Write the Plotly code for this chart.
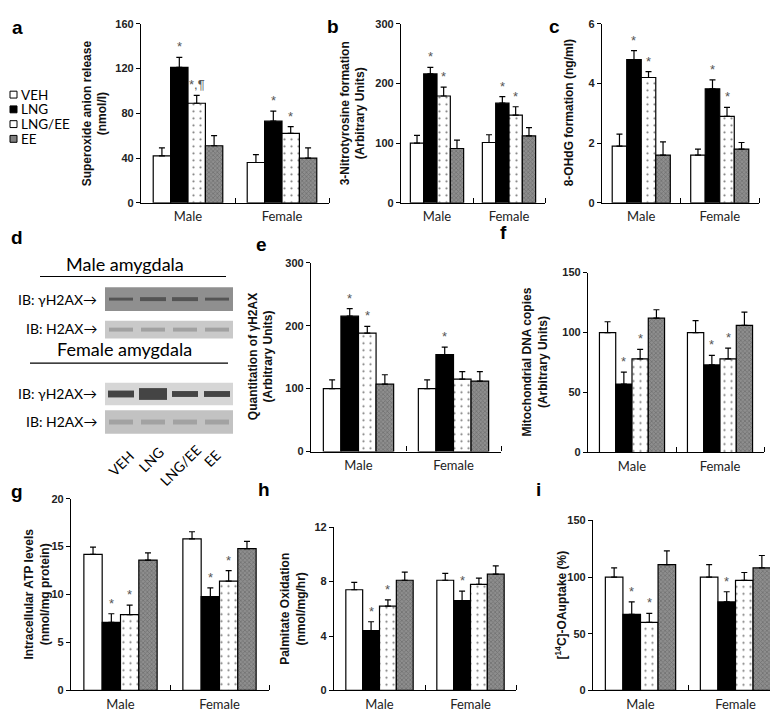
import plotly.graph_objects as go

W, H = 778, 713

groups = ["Male", "Female"]
treatments = ["VEH", "LNG", "LNG/EE", "EE"]

# a: Superoxide anion release (nmol/l)
superoxide_male = [42, 121, 89, 51]
superoxide_male_err = [7, 9, 7, 9]
superoxide_female = [36, 73, 62, 40]
superoxide_female_err = [7, 9, 6, 9]
superoxide_male_sig = ["", "*", "*,¶", ""]
superoxide_female_sig = ["", "*", "*", ""]

# b: 3-Nitrotyrosine formation (Arbitrary Units)
nitro_male = [100, 216, 179, 91]
nitro_male_err = [13, 11, 15, 14]
nitro_female = [101, 167, 147, 112]
nitro_female_err = [13, 11, 14, 14]
nitro_male_sig = ["", "*", "*", ""]
nitro_female_sig = ["", "*", "*", ""]

# c: 8-OHdG formation (ng/ml)
ohdg_male = [1.9, 4.8, 4.2, 1.6]
ohdg_male_err = [0.4, 0.3, 0.2, 0.44]
ohdg_female = [1.6, 3.82, 2.9, 1.8]
ohdg_female_err = [0.2, 0.3, 0.3, 0.22]
ohdg_male_sig = ["", "*", "*", ""]
ohdg_female_sig = ["", "*", "*", ""]

# e: Quantitation of gammaH2AX (Arbitrary Units)
h2ax_male = [100, 215, 188, 107]
h2ax_male_err = [14, 12, 11, 15]
h2ax_female = [100, 154, 115, 112]
h2ax_female_err = [14, 12, 12, 15]
h2ax_male_sig = ["", "*", "*", ""]
h2ax_female_sig = ["", "*", "", ""]

# f: Mitochondrial DNA copies (Arbitrary Units)
mtdna_male = [100, 57, 78, 112]
mtdna_male_err = [9, 10, 8, 7]
mtdna_female = [100, 73, 78, 106]
mtdna_female_err = [10, 8, 9, 11]
mtdna_male_sig = ["", "*", "*", ""]
mtdna_female_sig = ["", "*", "*", ""]

# g: Intracellular ATP levels (nmol/mg protein)
atp_male = [14.2, 7.1, 7.9, 13.6]
atp_male_err = [0.75, 0.9, 1.0, 0.75]
atp_female = [15.8, 9.8, 11.4, 14.8]
atp_female_err = [0.75, 0.9, 1.1, 0.75]
atp_male_sig = ["", "*", "*", ""]
atp_female_sig = ["", "*", "*", ""]

# h: Palmitate Oxidation (nmol/mg/hr)
palm_male = [7.4, 4.4, 6.2, 8.1]
palm_male_err = [0.55, 0.65, 0.45, 0.6]
palm_female = [8.1, 6.6, 7.8, 8.55]
palm_female_err = [0.5, 0.7, 0.45, 0.6]
palm_male_sig = ["", "*", "*", ""]
palm_female_sig = ["", "*", "", ""]

# i: [14C]-OA uptake (%)
oa_male = [100, 67, 60, 111]
oa_male_err = [8, 11, 8, 12]
oa_female = [100, 78, 97, 108]
oa_female_err = [11, 9, 7, 11]
oa_male_sig = ["", "*", "*", ""]
oa_female_sig = ["", "*", "", ""]

# d: blot lanes
blot_lanes = ["VEH", "LNG", "LNG/EE", "EE"]


def px(x):
    return x / W


def py(y):
    return 1 - y / H


panels = [
    dict(m=superoxide_male, me=superoxide_male_err, f=superoxide_female, fe=superoxide_female_err,
         ms=superoxide_male_sig, fs=superoxide_female_sig, ymax=160, dtick=40,
         box=(133, 321, 10, 192), title="Superoxide anion release<br>(nmol/l)", tx=87),
    dict(m=nitro_male, me=nitro_male_err, f=nitro_female, fe=nitro_female_err,
         ms=nitro_male_sig, fs=nitro_female_sig, ymax=300, dtick=100,
         box=(393, 537, 10, 192), title="3-Nitrotyrosine formation<br>(Arbitrary Units)", tx=345),
    dict(m=ohdg_male, me=ohdg_male_err, f=ohdg_female, fe=ohdg_female_err,
         ms=ohdg_male_sig, fs=ohdg_female_sig, ymax=6, dtick=2,
         box=(594, 751, 10, 192), title="8-OHdG formation (ng/ml)", tx=561),
    dict(m=h2ax_male, me=h2ax_male_err, f=h2ax_female, fe=h2ax_female_err,
         ms=h2ax_male_sig, fs=h2ax_female_sig, ymax=300, dtick=100,
         box=(303, 493, 253, 445), title="Quantitation of γH2AX<br>(Arbitrary Units)", tx=253),
    dict(m=mtdna_male, me=mtdna_male_err, f=mtdna_female, fe=mtdna_female_err,
         ms=mtdna_male_sig, fs=mtdna_female_sig, ymax=150, dtick=50,
         box=(580, 756, 263, 446), title="Mitochondrial DNA copies<br>(Arbitrary Units)", tx=527),
    dict(m=atp_male, me=atp_male_err, f=atp_female, fe=atp_female_err,
         ms=atp_male_sig, fs=atp_female_sig, ymax=20, dtick=5,
         box=(63, 261, 493, 688), title="Intracellular ATP levels<br>(nmol/mg protein)", tx=29),
    dict(m=palm_male, me=palm_male_err, f=palm_female, fe=palm_female_err,
         ms=palm_male_sig, fs=palm_female_sig, ymax=12, dtick=4,
         box=(326, 508, 522, 688), title="Palmitate Oxidation<br>(nmol/mg/hr)", tx=285),
    dict(m=oa_male, me=oa_male_err, f=oa_female, fe=oa_female_err,
         ms=oa_male_sig, fs=oa_female_sig, ymax=150, dtick=50,
         box=(585, 775, 515, 688), title="[<sup>14</sup>C]-OAuptake (%)", tx=553),
]

styles = [
    dict(color="white", pattern=None),
    dict(color="black", pattern=None),
    dict(color="white", pattern=dict(shape=".", fgcolor="black", bgcolor="white", size=7, solidity=0.08)),
    dict(color="#808080", pattern=dict(shape="x", fgcolor="#555555", bgcolor="#8e8e8e", size=3, solidity=0.45)),
]

bw = 0.185
offsets = [(k - 1.5) * bw for k in range(4)]

fig = go.Figure()
annotations = []
shapes = []
layout = {}

for p_i, p in enumerate(panels):
    n = p_i + 1
    xa = "x" if n == 1 else f"x{n}"
    ya = "y" if n == 1 else f"y{n}"
    for k, t in enumerate(treatments):
        st = styles[k]
        marker = dict(color=st["color"], line=dict(color="black", width=1.2))
        if st["pattern"]:
            marker["pattern"] = st["pattern"]
        xs = [g + offsets[k] for g in range(2)]
        ys = [p["m"][k], p["f"][k]]
        es = [p["me"][k], p["fe"][k]]
        fig.add_trace(go.Bar(
            x=xs, y=ys, width=bw, marker=marker, xaxis=xa, yaxis=ya, showlegend=False,
            name=t,
            error_y=dict(type="data", array=es, arrayminus=[0, 0], symmetric=False,
                         color="black", thickness=1.2, width=3),
        ))
        for g, sig in enumerate([p["ms"][k], p["fs"][k]]):
            if sig:
                annotations.append(dict(
                    x=xs[g], y=ys[g] + es[g], xref=xa, yref=ya, text=sig, showarrow=False,
                    yanchor="bottom", yshift=1,
                    font=dict(family="Liberation Sans", size=13, color="#555555")))
    x0, x1, y0, y1 = p["box"]
    layout["xaxis" if n == 1 else f"xaxis{n}"] = dict(
        domain=[px(x0), px(x1)], anchor=ya, range=[-0.5, 1.5],
        showline=True, linecolor="black", linewidth=1.2, showgrid=False, zeroline=False,
        tickmode="array", tickvals=[0, 1], ticktext=groups, ticks="",
        ticklabelstandoff=2,
        tickfont=dict(family="Lato", size=13, color="#222222"),
        minor=dict(tickmode="array", tickvals=[0.5, 1.5], ticks="inside", ticklen=5,
                   tickcolor="black", tickwidth=1.2),
    )
    layout["yaxis" if n == 1 else f"yaxis{n}"] = dict(
        domain=[py(y1), py(y0)], anchor=xa, range=[0, p["ymax"]], dtick=p["dtick"],
        showline=True, linecolor="black", linewidth=1.2, showgrid=False, zeroline=False,
        ticks="outside", ticklen=4, tickcolor="black",
        tickfont=dict(family="Liberation Sans", size=11, color="#222222", weight="bold"),
    )
    annotations.append(dict(
        x=px(p["tx"]), y=py((y0 + y1) / 2), xref="paper", yref="paper", text=p["title"],
        textangle=-90, showarrow=False, xanchor="center", yanchor="middle",
        font=dict(family="Liberation Sans", size=12, color="#111111", weight="bold")))

# panel letters
letters = [("a", 9, 14), ("b", 325, 13), ("c", 546, 13), ("d", 9, 227), ("e", 253, 234),
           ("f", 495, 222), ("g", 9, 486), ("h", 256, 484), ("i", 530, 484)]
for t, lx, ly in letters:
    annotations.append(dict(x=px(lx), y=py(ly), xref="paper", yref="paper", text=f"<b>{t}</b>",
                            showarrow=False, xanchor="center", yanchor="middle",
                            font=dict(family="Liberation Sans", size=19, color="black")))

# legend (panel a)
leg_y = [82, 97, 112, 127]
leg_fill = ["white", "black", "white", "#808080"]
for k, t in enumerate(treatments):
    cy = leg_y[k]
    shapes.append(dict(type="rect", xref="paper", yref="paper", x0=px(2), x1=px(9),
                       y0=py(cy + 3.5), y1=py(cy - 3.5), fillcolor=leg_fill[k],
                       line=dict(color="black", width=1)))
    annotations.append(dict(x=px(11), y=py(cy), xref="paper", yref="paper", text=t,
                            showarrow=False, xanchor="left", yanchor="middle",
                            font=dict(family="Lato", size=13.5, color="black")))

# panel d: western blot schematic
def blot(ytop, ybot, bg, band, band_h, band_w):
    shapes.append(dict(type="rect", xref="paper", yref="paper", x0=px(97), x1=px(225),
                       y0=py(ybot), y1=py(ytop), fillcolor=bg, line=dict(width=0)))
    cy = (ytop + ybot) / 2
    for j in range(4):
        cx = 113 + 32 * j
        w = band_w[j]
        shapes.append(dict(type="rect", xref="paper", yref="paper", x0=px(cx - w / 2), x1=px(cx + w / 2),
                           y0=py(cy + band_h[j] / 2), y1=py(cy - band_h[j] / 2),
                           fillcolor=band, line=dict(width=0), opacity=0.85))

blot(278, 302, "#8f8f8f", "#4a4a4a", [3, 4, 4, 3], [24, 26, 26, 24])
blot(312, 330, "#c9c9c9", "#9a9a9a", [4, 4, 4, 4], [24, 24, 24, 24])
blot(375, 398, "#d6d6d6", "#2a2a2a", [7, 12, 6, 6], [26, 28, 26, 26])
blot(403, 427, "#c2c2c2", "#9c9c9c", [5, 5, 5, 5], [24, 24, 24, 24])

shapes.append(dict(type="line", xref="paper", yref="paper", x0=px(32), x1=px(218),
                   y0=py(267), y1=py(267), line=dict(color="black", width=1.2)))
shapes.append(dict(type="line", xref="paper", yref="paper", x0=px(22), x1=px(220),
                   y0=py(355), y1=py(355), line=dict(color="black", width=1.2)))

annotations.append(dict(x=px(117), y=py(254), xref="paper", yref="paper", text="Male amygdala",
                        showarrow=False, xanchor="center", yanchor="middle",
                        font=dict(family="Lato", size=18, color="black")))
annotations.append(dict(x=px(117), y=py(341), xref="paper", yref="paper", text="Female amygdala",
                        showarrow=False, xanchor="center", yanchor="middle",
                        font=dict(family="Lato", size=18, color="black")))
for lbl, ly in [("IB: γH2AX→", 290), ("IB: H2AX→", 320), ("IB: γH2AX→", 386), ("IB: H2AX→", 414)]:
    annotations.append(dict(x=px(91), y=py(ly), xref="paper", yref="paper", text=lbl,
                            showarrow=False, xanchor="right", yanchor="middle",
                            font=dict(family="Lato", size=14, color="black")))
lane_pos = [(113, 457), (143, 453), (172, 459), (204, 452)]
for lbl, (lx, ly) in zip(blot_lanes, lane_pos):
    annotations.append(dict(x=px(lx), y=py(ly), xref="paper", yref="paper", text=lbl,
                            showarrow=False, xanchor="center", yanchor="middle", textangle=-45,
                            font=dict(family="Lato", size=14, color="black")))

fig.update_layout(
    width=W, height=H, margin=dict(l=0, r=0, t=0, b=0),
    paper_bgcolor="white", plot_bgcolor="white",
    barmode="overlay", showlegend=False,
    annotations=annotations, shapes=shapes,
    **layout,
)

fig.write_html("out.html")
